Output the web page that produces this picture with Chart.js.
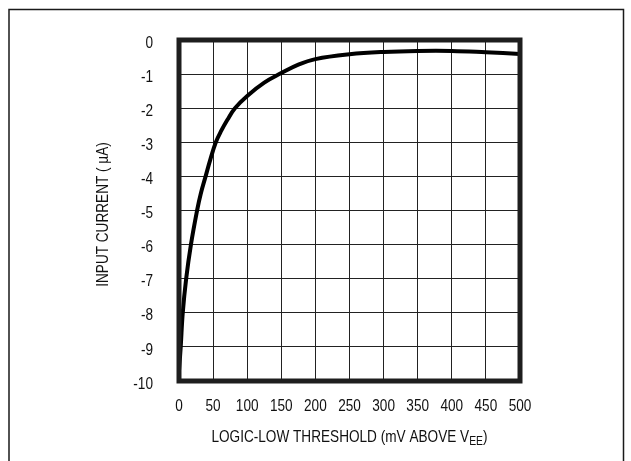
<!DOCTYPE html>
<html>
<head>
<meta charset="utf-8">
<script src="https://cdn.jsdelivr.net/npm/chart.js@4/dist/chart.umd.min.js"></script>
<style>
html,body{margin:0;padding:0;background:#fff;}
#wrap{width:631px;height:461px;position:relative;}
</style>
</head>
<body>
<div id="wrap"><canvas id="c" width="631" height="461"></canvas></div>
<script>
const thresholdMv = [0, 2.5, 5.5, 10.5, 17.5, 26.5, 32, 39, 46, 54, 62, 71, 82, 100, 125, 150, 175, 200, 250, 300, 350, 400, 450, 500];
const inputCurrentUA = [-9.7, -9.0, -8.0, -7.0, -6.0, -5.0, -4.5, -4.0, -3.5, -3.0, -2.66, -2.34, -2.0, -1.64, -1.25, -0.97, -0.72, -0.56, -0.42, -0.35, -0.32, -0.32, -0.36, -0.41];
const xTicks = [0, 50, 100, 150, 200, 250, 300, 350, 400, 450, 500];
const yTicks = [0, -1, -2, -3, -4, -5, -6, -7, -8, -9, -10];
const xTitle = ["LOGIC-LOW THRESHOLD (mV ABOVE V", "EE", ")"];
const yTitle = "INPUT CURRENT ( µA)";

const FONT = '"Liberation Sans", Arial, sans-serif';
const SX = 0.8; // horizontal condensing of the Helvetica-like face

const points = thresholdMv.map((x, i) => ({x: x, y: inputCurrentUA[i]}));

function condensedText(ctx, text, x, y, align) {
  const w = ctx.measureText(text).width * SX;
  let left = x;
  if (align === 'center') left = x - w / 2;
  else if (align === 'right') left = x - w;
  ctx.save();
  ctx.translate(left, y);
  ctx.scale(SX, 1);
  ctx.textAlign = 'left';
  ctx.fillText(text, 0, 0);
  ctx.restore();
  return w;
}

const decor = {
  id: 'decor',
  beforeDraw(chart) {
    const ctx = chart.ctx;
    ctx.save();
    ctx.fillStyle = '#fff';
    ctx.fillRect(0, 0, chart.width, chart.height);
    ctx.strokeStyle = '#1a1a1a';
    ctx.lineWidth = 1.5;
    ctx.beginPath();
    ctx.moveTo(9, 470);
    ctx.lineTo(9, 9.5);
    ctx.lineTo(623.5, 9.5);
    ctx.lineTo(623.5, 470);
    ctx.stroke();
    ctx.restore();
  },
  afterDraw(chart) {
    const ctx = chart.ctx;
    const a = chart.chartArea;
    const xs = chart.scales.x, ys = chart.scales.y;
    ctx.save();
    ctx.strokeStyle = '#1e1e1e';
    ctx.lineWidth = 5;
    ctx.strokeRect(a.left, a.top, a.right - a.left, a.bottom - a.top);
    ctx.fillStyle = '#111';
    ctx.textBaseline = 'middle';
    ctx.font = '17px ' + FONT;
    xTicks.forEach(v => {
      condensedText(ctx, String(v), xs.getPixelForValue(v), a.bottom + 25, 'center');
    });
    yTicks.forEach(v => {
      condensedText(ctx, String(v), 153, ys.getPixelForValue(v) + 3, 'right');
    });
    ctx.textBaseline = 'alphabetic';
    const f1 = '17px ' + FONT, f2 = '13px ' + FONT;
    ctx.font = f1;
    const w0 = ctx.measureText(xTitle[0]).width * SX;
    const w2 = ctx.measureText(xTitle[2]).width * SX;
    ctx.font = f2;
    const w1 = ctx.measureText(xTitle[1]).width * SX;
    let x = (a.left + a.right) / 2 - (w0 + w1 + w2) / 2;
    const yb = 442;
    ctx.font = f1; condensedText(ctx, xTitle[0], x, yb, 'left'); x += w0;
    ctx.font = f2; condensedText(ctx, xTitle[1], x, yb + 3, 'left'); x += w1;
    ctx.font = f1; condensedText(ctx, xTitle[2], x, yb, 'left');
    ctx.translate(103, (a.top + a.bottom) / 2 + 4);
    ctx.rotate(-Math.PI / 2);
    ctx.font = f1;
    ctx.textBaseline = 'middle';
    condensedText(ctx, yTitle, 0, 0, 'center');
    ctx.restore();
  }
};

new Chart(document.getElementById('c'), {
  type: 'scatter',
  data: {
    datasets: [{
      data: points,
      showLine: true,
      borderColor: '#000',
      borderWidth: 4,
      pointRadius: 0,
      tension: 0.4,
      fill: false
    }]
  },
  options: {
    responsive: false,
    animation: false,
    devicePixelRatio: 1,
    layout: { padding: { left: 0, right: 111, top: 40, bottom: 0 } },
    plugins: { legend: { display: false }, tooltip: { enabled: false } },
    scales: {
      x: {
        type: 'linear', min: 0, max: 500,
        afterBuildTicks(s) { s.ticks = xTicks.map(v => ({value: v})); },
        afterFit(s) { s.height = 80; },
        grid: { color: '#222', lineWidth: 1, drawTicks: false },
        border: { display: false },
        ticks: { display: false }
      },
      y: {
        type: 'linear', min: -10, max: 0,
        afterBuildTicks(s) { s.ticks = yTicks.map(v => ({value: v})); },
        afterFit(s) { s.width = 179; },
        grid: { color: '#222', lineWidth: 1, drawTicks: false },
        border: { display: false },
        ticks: { display: false }
      }
    }
  },
  plugins: [decor]
});
</script>
</body>
</html>
